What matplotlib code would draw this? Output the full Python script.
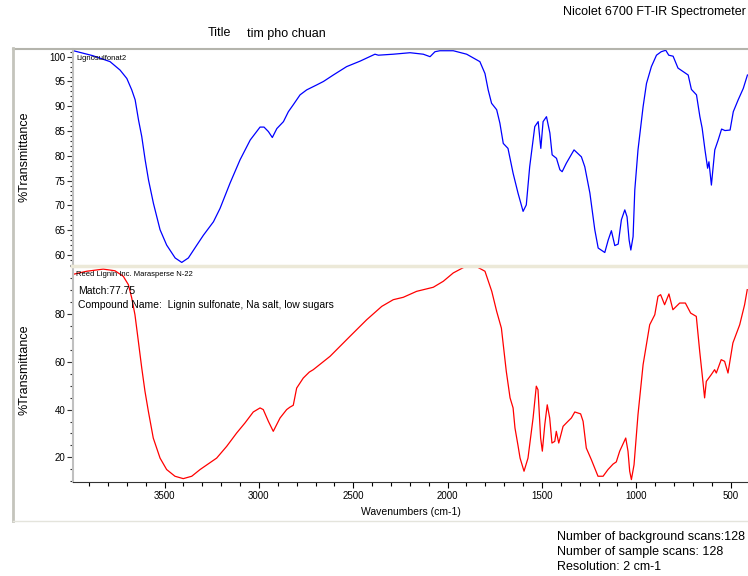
import numpy as np
import matplotlib.pyplot as plt
from matplotlib.lines import Line2D
from matplotlib.ticker import MultipleLocator

plt.rcParams['font.family'] = ['Liberation Sans', 'DejaVu Sans']

# sample spectrum (Lignosulfonat2)
sample_wn = [3983, 3880, 3789, 3736, 3700, 3674, 3656, 3638, 3621, 3603, 3585, 3559, 3524,
             3489, 3444, 3409, 3374, 3329, 3294, 3241, 3206, 3153, 3100, 3046, 2994,
             2973, 2950, 2929, 2905, 2870, 2844, 2818, 2782, 2747, 2694, 2658, 2606,
             2535, 2464, 2385, 2367, 2288, 2199, 2129, 2093, 2067, 2041, 1970, 1899,
             1829, 1802, 1785, 1767, 1740, 1723, 1705, 1680, 1653, 1627, 1600, 1583,
             1565, 1538, 1520, 1506, 1494, 1476, 1458, 1446, 1423, 1405, 1393, 1371,
             1330, 1291, 1273, 1246, 1220, 1202, 1167, 1149, 1132, 1114, 1096, 1079,
             1061, 1049, 1038, 1029, 1017, 1008, 991, 964, 946, 920, 893, 868, 844,
             828, 805, 779, 752, 725, 708, 681, 663, 651, 636, 622, 615, 602, 584,
             566, 548, 530, 503, 486, 460, 433, 411]
sample_t = [101.2, 100.2, 99.0, 97.3, 95.6, 93.3, 91.3, 87.2, 83.9, 79.2, 75.1, 70.4, 65.1,
            62.0, 59.4, 58.5, 59.4, 62.0, 64.0, 66.7, 69.4, 74.5, 79.2, 83.2, 85.8,
            85.8, 84.9, 83.7, 85.5, 86.9, 88.9, 90.3, 92.3, 93.3, 94.3, 95.0, 96.3,
            98.0, 99.1, 100.5, 100.3, 100.5, 100.8, 100.5, 100.0, 101.0, 101.2, 101.2, 100.5,
            99.0, 96.6, 93.3, 90.6, 89.3, 86.6, 82.5, 81.5, 76.5, 72.5, 68.8, 70.1,
            77.8, 85.9, 86.9, 81.5, 86.9, 87.9, 84.6, 80.2, 79.5, 77.2, 76.8, 78.5,
            81.2, 79.8, 77.8, 72.5, 65.1, 61.4, 60.5, 63.0, 64.9, 61.9, 62.2, 67.1,
            69.1, 67.7, 63.0, 61.0, 63.7, 73.1, 81.2, 89.9, 94.6, 98.0, 100.3, 101.0, 101.3,
            100.3, 100.1, 97.7, 97.0, 96.3, 93.4, 92.3, 87.9, 85.6, 81.2, 77.5, 78.8, 74.1, 81.2,
            83.2, 85.4, 85.1, 85.2, 88.9, 91.3, 93.6, 96.3]

# library match (Reed Lignin Inc. Marasperse N-22)
ref_wn = [3980, 3913, 3825, 3763, 3719, 3692, 3674, 3657, 3639, 3621, 3604, 3586,
          3560, 3524, 3489, 3445, 3401, 3356, 3312, 3224, 3171, 3118, 3074, 3030,
          2994, 2977, 2950, 2924, 2888, 2853, 2836, 2818, 2800, 2765, 2733, 2712,
          2623, 2517, 2429, 2349, 2288, 2235, 2164, 2076, 2023, 1970, 1908, 1846,
          1802, 1766, 1740, 1715, 1689, 1669, 1653, 1643, 1627, 1616, 1595, 1574,
          1547, 1530, 1521, 1507, 1498, 1485, 1472, 1459, 1447, 1432, 1424, 1411,
          1388, 1362, 1344, 1326, 1295, 1282, 1265, 1238, 1203, 1176, 1150, 1123,
          1106, 1088, 1056, 1044, 1035, 1026, 1012, 991, 964, 929, 902, 885, 871,
          850, 827, 806, 770, 740, 712, 682, 664, 647, 638, 629, 603, 585, 576,
          550, 532, 514, 488, 452, 426, 412]
ref_t = [96.7, 97.9, 98.8, 98.1, 95.8, 92.3, 86.7, 79.7, 68.6, 57.4, 47.7, 39.3,
         28.1, 19.7, 14.9, 12.1, 11.1, 12.1, 14.9, 19.7, 24.6, 30.2, 34.4, 39.0,
         40.7, 40.0, 35.1, 30.9, 36.5, 40.0, 41.0, 41.8, 49.0, 53.2, 55.7, 56.7,
         62.3, 70.7, 77.6, 83.2, 86.0, 87.0, 89.5, 91.2, 93.7, 97.2, 99.8, 99.8,
         97.9, 89.5, 81.1, 74.1, 56.0, 44.9, 40.7, 32.3, 25.0, 19.7, 14.2, 19.7,
         36.5, 49.8, 48.3, 28.1, 22.6, 33.7, 42.0, 36.5, 26.0, 26.7, 30.9, 26.0,
         33.0, 35.1, 36.5, 39.0, 38.2, 35.1, 23.9, 19.0, 12.1, 12.1, 14.9, 17.2,
         18.1, 22.6, 28.1, 22.6, 14.2, 10.7, 16.9, 37.9, 58.8, 75.5, 79.7, 87.4, 88.1,
         83.9, 88.4, 81.8, 84.6, 84.6, 80.4, 79.0, 64.4, 51.8, 44.9, 51.8, 54.6, 56.7, 55.3,
         60.9, 60.2, 55.3, 67.9, 75.5, 83.9, 90.2]

W, H = 748, 576
fig = plt.figure(figsize=(W / 100, H / 100), dpi=100)

def fx(px):
    return px / W

def fy(py):
    return 1 - py / H

ax1 = fig.add_axes([fx(72.5), fy(265), 1 - fx(72.5), (265 - 49) / H])
ax2 = fig.add_axes([fx(72.5), fy(481.5), 1 - fx(72.5), (481.5 - 266) / H])

ax1.plot(sample_wn, sample_t, color='#0000ff', lw=0.9)
ax2.plot(ref_wn, ref_t, color='#ff0000', lw=0.9)

for ax in (ax1, ax2):
    ax.set_xlim(3988, 408)
    ax.spines['top'].set_visible(False)
    ax.spines['right'].set_visible(False)
    ax.spines['left'].set_color('#c0c0c0')
    ax.spines['left'].set_linewidth(1.5)
    ax.tick_params(axis='y', which='major', length=4, width=0.8, labelsize=7,
                   color='#333333', pad=1)
    ax.tick_params(axis='y', which='minor', length=2, width=0.8, color='#333333')

ax1.set_ylim(57.98, 101.55)
ax1.yaxis.set_major_locator(MultipleLocator(5))
ax1.yaxis.set_minor_locator(MultipleLocator(1))
ax1.spines['bottom'].set_visible(False)
ax1.tick_params(axis='x', which='both', bottom=False, labelbottom=False)

ax2.set_ylim(9.9, 100.1)
ax2.set_yticks([20, 40, 60, 80])
ax2.yaxis.set_minor_locator(MultipleLocator(5))
ax2.xaxis.set_major_locator(MultipleLocator(500))
ax2.xaxis.set_minor_locator(MultipleLocator(100))
ax2.spines['bottom'].set_color('#333333')
ax2.tick_params(axis='x', which='major', length=4, width=0.8, labelsize=7, pad=3)
ax2.tick_params(axis='x', which='minor', length=3, width=0.8)

# frame lines
fig.add_artist(Line2D([fx(13), 1], [fy(48.5), fy(48.5)], color='#b4b4ac', lw=1.5))
fig.add_artist(Line2D([fx(13), fx(13)], [fy(48), fy(521)], color='#c4c4bc', lw=2))
fig.add_artist(Line2D([fx(13), 1], [fy(521), fy(521)], color='#e4e4dc', lw=1))
fig.add_artist(Line2D([fx(72), 1], [fy(265.5), fy(265.5)], color='#ece9d8', lw=2.5))

# texts
fig.text(fx(746), fy(12), 'Nicolet 6700 FT-IR Spectrometer', ha='right', va='center', fontsize=9)
fig.text(fx(208), fy(33), 'Title', ha='left', va='center', fontsize=9)
fig.text(fx(247), fy(34), 'tim pho chuan', ha='left', va='center', fontsize=9)
fig.text(fx(25), fy(157), '%Transmittance', rotation=90, ha='center', va='center', fontsize=9)
fig.text(fx(25), fy(370), '%Transmittance', rotation=90, ha='center', va='center', fontsize=9)
fig.text(fx(411), fy(512), 'Wavenumbers (cm-1)', ha='center', va='center', fontsize=7.5)
fig.text(fx(76), fy(59), 'Lignosulfonat2', ha='left', va='center', fontsize=5.5)
fig.text(fx(76), fy(274), 'Reed Lignin Inc. Marasperse N-22', ha='left', va='center', fontsize=5.5)
fig.text(fx(78), fy(291), 'Match:77.75', ha='left', va='center', fontsize=7.5)
fig.text(fx(78), fy(305), 'Compound Name:  Lignin sulfonate, Na salt, low sugars',
         ha='left', va='center', fontsize=7.5)
fig.text(fx(557), fy(537), 'Number of background scans:128', ha='left', va='center', fontsize=9)
fig.text(fx(557), fy(552), 'Number of sample scans: 128', ha='left', va='center', fontsize=9)
fig.text(fx(557), fy(567), 'Resolution: 2 cm-1', ha='left', va='center', fontsize=9)

fig.savefig('out.png', dpi=100)
